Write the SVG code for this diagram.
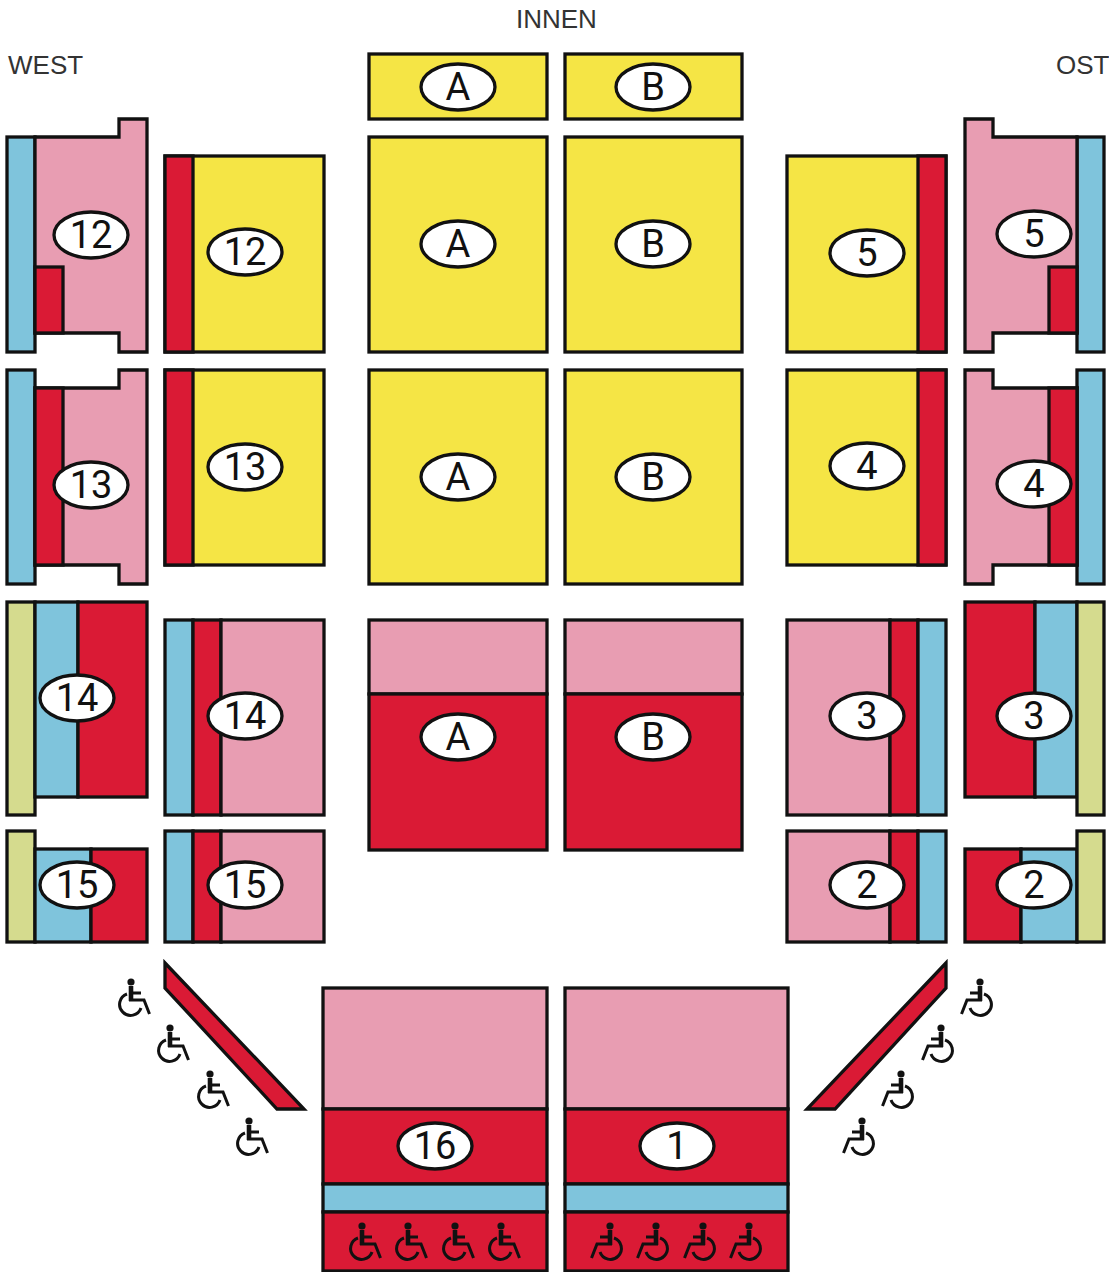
<svg xmlns="http://www.w3.org/2000/svg" width="1109" height="1272" viewBox="0 0 1109 1272">
<style>
.y{fill:#f5e545}.r{fill:#da1a35}.p{fill:#e89db2}.b{fill:#7fc4dc}.k{fill:#d5db8e}
rect,polygon,ellipse{stroke:#111;stroke-width:3.3;stroke-linejoin:miter}
ellipse{fill:#fff}
.n{font-family:"Roboto","Liberation Sans",sans-serif;font-size:38px;fill:#111;text-anchor:middle}
.h{font-family:"Liberation Sans",Arial,sans-serif;font-size:26px;fill:#333}
.w{fill:none;stroke:#111;stroke-width:3}
.t{fill:none;stroke:#111;stroke-width:4.6}
.wf{fill:#111}
</style>
<defs>
<g id="wr"><circle class="wf" cx="0" cy="0" r="3.6"/><path class="t" d="M0 4V19"/><path class="w" d="M-2 18H13L18.500 32M0 11H10"/><path class="w" d="M-4 12A11 11 0 1 0 10 26"/></g>
<g id="wl"><circle class="wf" cx="0" cy="0" r="3.6"/><path class="t" d="M0 4V19"/><path class="w" d="M2 18H-13L-18.500 32M0 11H-10"/><path class="w" d="M4 12A11 11 0 1 1 -10 26"/></g>
</defs>
<rect x="0" y="0" width="1109" height="1272" fill="#fff" style="stroke:none"/>
<text class="h" x="516" y="28">INNEN</text>
<text class="h" x="8" y="74">WEST</text>
<text class="h" x="1056" y="74">OST</text>

<g id="west-12-outer"><rect class="b" x="7" y="137" width="28" height="215"/><polygon class="p" points="35,137 119,137 119,119 147,119 147,352 119,352 119,333 35,333"/><rect class="r" x="35" y="267" width="28" height="66"/><ellipse cx="91" cy="235" rx="37" ry="23"/><text class="n" x="91" y="248">12</text></g>
<g id="west-12-inner"><rect class="y" x="165" y="156" width="159" height="196"/><rect class="r" x="165" y="156" width="28" height="196"/><ellipse cx="245" cy="252" rx="37" ry="23"/><text class="n" x="245" y="265">12</text></g>
<g id="west-13-outer"><rect class="b" x="7" y="370" width="28" height="214"/><polygon class="p" points="35,388 119,388 119,370 147,370 147,584 119,584 119,565 35,565"/><rect class="r" x="35" y="388" width="28" height="177"/><ellipse cx="91" cy="485" rx="37" ry="23"/><text class="n" x="91" y="498">13</text></g>
<g id="west-13-inner"><rect class="y" x="165" y="370" width="159" height="195"/><rect class="r" x="165" y="370" width="28" height="195"/><ellipse cx="245" cy="467" rx="37" ry="23"/><text class="n" x="245" y="480">13</text></g>
<g id="west-14-outer"><rect class="k" x="7" y="602" width="28" height="213"/><rect class="b" x="35" y="602" width="43" height="195"/><rect class="r" x="78" y="602" width="69" height="195"/><ellipse cx="77" cy="698" rx="37" ry="23"/><text class="n" x="77" y="711">14</text></g>
<g id="west-14-inner"><rect class="b" x="165" y="620" width="28" height="195"/><rect class="r" x="193" y="620" width="28" height="195"/><rect class="p" x="221" y="620" width="103" height="195"/><ellipse cx="245" cy="716" rx="37" ry="23"/><text class="n" x="245" y="729">14</text></g>
<g id="west-15-outer"><rect class="k" x="7" y="831" width="28" height="111"/><rect class="b" x="35" y="849" width="56" height="93"/><rect class="r" x="91" y="849" width="56" height="93"/><ellipse cx="77" cy="885" rx="37" ry="23"/><text class="n" x="77" y="898">15</text></g>
<g id="west-15-inner"><rect class="b" x="165" y="831" width="28" height="111"/><rect class="r" x="193" y="831" width="28" height="111"/><rect class="p" x="221" y="831" width="103" height="111"/><ellipse cx="245" cy="885" rx="37" ry="23"/><text class="n" x="245" y="898">15</text></g>

<g id="a-top"><rect class="y" x="369" y="54" width="178" height="65"/><ellipse cx="458" cy="87" rx="37" ry="23"/><text class="n" x="458" y="100">A</text></g>
<g id="b-top"><rect class="y" x="565" y="54" width="177" height="65"/><ellipse cx="653" cy="87" rx="37" ry="23"/><text class="n" x="653" y="100">B</text></g>
<g id="a-1"><rect class="y" x="369" y="137" width="178" height="215"/><ellipse cx="458" cy="244" rx="37" ry="23"/><text class="n" x="458" y="257">A</text></g>
<g id="b-1"><rect class="y" x="565" y="137" width="177" height="215"/><ellipse cx="653" cy="244" rx="37" ry="23"/><text class="n" x="653" y="257">B</text></g>
<g id="a-2"><rect class="y" x="369" y="370" width="178" height="214"/><ellipse cx="458" cy="477" rx="37" ry="23"/><text class="n" x="458" y="490">A</text></g>
<g id="b-2"><rect class="y" x="565" y="370" width="177" height="214"/><ellipse cx="653" cy="477" rx="37" ry="23"/><text class="n" x="653" y="490">B</text></g>
<g id="a-3"><rect class="p" x="369" y="620" width="178" height="74"/><rect class="r" x="369" y="694" width="178" height="156"/><ellipse cx="458" cy="737" rx="37" ry="23"/><text class="n" x="458" y="750">A</text></g>
<g id="b-3"><rect class="p" x="565" y="620" width="177" height="74"/><rect class="r" x="565" y="694" width="177" height="156"/><ellipse cx="653" cy="737" rx="37" ry="23"/><text class="n" x="653" y="750">B</text></g>

<g id="ost-5-inner"><rect class="y" x="787" y="156" width="159" height="196"/><rect class="r" x="918" y="156" width="28" height="196"/><ellipse cx="867" cy="253" rx="37" ry="23"/><text class="n" x="867" y="266">5</text></g>
<g id="ost-5-outer"><rect class="b" x="1077" y="137" width="27" height="215"/><polygon class="p" points="1077,137 993,137 993,119 965,119 965,352 993,352 993,333 1077,333"/><rect class="r" x="1049" y="267" width="28" height="66"/><ellipse cx="1034" cy="234" rx="37" ry="23"/><text class="n" x="1034" y="247">5</text></g>
<g id="ost-4-inner"><rect class="y" x="787" y="370" width="159" height="195"/><rect class="r" x="918" y="370" width="28" height="195"/><ellipse cx="867" cy="466" rx="37" ry="23"/><text class="n" x="867" y="479">4</text></g>
<g id="ost-4-outer"><rect class="b" x="1077" y="370" width="27" height="214"/><polygon class="p" points="1077,388 993,388 993,370 965,370 965,584 993,584 993,565 1077,565"/><rect class="r" x="1049" y="388" width="28" height="177"/><ellipse cx="1034" cy="484" rx="37" ry="23"/><text class="n" x="1034" y="497">4</text></g>
<g id="ost-3-inner"><rect class="p" x="787" y="620" width="103" height="195"/><rect class="r" x="890" y="620" width="28" height="195"/><rect class="b" x="918" y="620" width="28" height="195"/><ellipse cx="867" cy="716" rx="37" ry="23"/><text class="n" x="867" y="729">3</text></g>
<g id="ost-3-outer"><rect class="r" x="965" y="602" width="70" height="195"/><rect class="b" x="1035" y="602" width="42" height="195"/><rect class="k" x="1077" y="602" width="27" height="213"/><ellipse cx="1034" cy="716" rx="37" ry="23"/><text class="n" x="1034" y="729">3</text></g>
<g id="ost-2-inner"><rect class="p" x="787" y="831" width="103" height="111"/><rect class="r" x="890" y="831" width="28" height="111"/><rect class="b" x="918" y="831" width="28" height="111"/><ellipse cx="867" cy="885" rx="37" ry="23"/><text class="n" x="867" y="898">2</text></g>
<g id="ost-2-outer"><rect class="r" x="965" y="849" width="56" height="93"/><rect class="b" x="1021" y="849" width="56" height="93"/><rect class="k" x="1077" y="831" width="27" height="111"/><ellipse cx="1034" cy="885" rx="37" ry="23"/><text class="n" x="1034" y="898">2</text></g>

<g id="ramp-west"><polygon class="r" points="165,963 165,988 277,1109 304,1109"/></g>
<g id="ramp-ost"><polygon class="r" points="946,963 946,988 835,1109 807,1109"/></g>
<g id="wc-west"><use href="#wr" x="131" y="982"/><use href="#wr" x="170" y="1028"/><use href="#wr" x="210" y="1074"/><use href="#wr" x="249" y="1121"/></g>
<g id="wc-ost"><use href="#wl" x="980" y="982"/><use href="#wl" x="941" y="1028"/><use href="#wl" x="901" y="1074"/><use href="#wl" x="862" y="1121"/></g>

<g id="block-16"><rect class="p" x="323" y="988" width="224" height="121"/><rect class="r" x="323" y="1109" width="224" height="75"/><rect class="b" x="323" y="1184" width="224" height="28"/><rect class="r" x="323" y="1212" width="224" height="59"/><ellipse cx="435" cy="1146" rx="37" ry="23"/><text class="n" x="435" y="1159">16</text><use href="#wr" x="362" y="1226"/><use href="#wr" x="408" y="1226"/><use href="#wr" x="455" y="1226"/><use href="#wr" x="501" y="1226"/></g>
<g id="block-1"><rect class="p" x="565" y="988" width="223" height="121"/><rect class="r" x="565" y="1109" width="223" height="75"/><rect class="b" x="565" y="1184" width="223" height="28"/><rect class="r" x="565" y="1212" width="223" height="59"/><ellipse cx="677" cy="1146" rx="37" ry="23"/><text class="n" x="677" y="1159">1</text><use href="#wl" x="610" y="1226"/><use href="#wl" x="656" y="1226"/><use href="#wl" x="703" y="1226"/><use href="#wl" x="749" y="1226"/></g>
<g id="connectors"></g>
</svg>
